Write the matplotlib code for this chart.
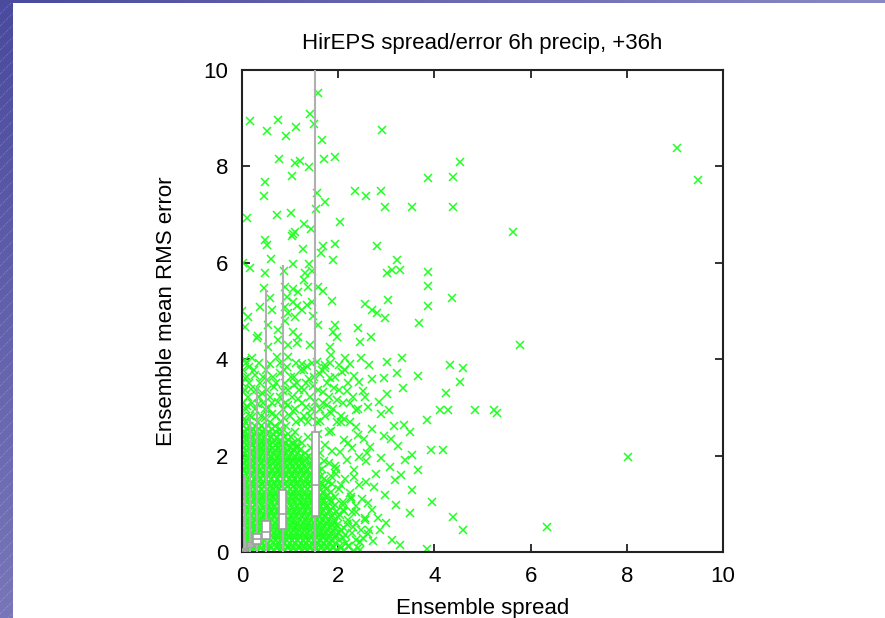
import numpy as np
import matplotlib
matplotlib.use("Agg")
import matplotlib.pyplot as plt

plt.rcParams['font.family'] = ['Liberation Sans', 'DejaVu Sans']

title = 'HirEPS spread/error 6h precip, +36h'
xlabel = 'Ensemble spread'
ylabel = 'Ensemble mean RMS error'

# dense core of the cloud, read row by row (error level, spreads)
core_rows = [
    (0.03, [0.02, 0.09, 0.21, 0.30, 0.44, 0.55, 0.66, 0.79, 0.88, 1.01, 1.12, 1.24, 1.35, 1.47, 1.58, 1.71, 1.83, 1.97, 2.12, 2.31]),
    (0.08, [0.08, 0.16, 0.27, 0.39, 0.50, 0.61, 0.73, 0.84, 0.95, 1.07, 1.18, 1.30, 1.41, 1.53, 1.64, 1.77, 1.90, 2.05, 2.42]),
    (0.13, [0.05, 0.14, 0.26, 0.37, 0.49, 0.58, 0.72, 0.83, 0.95, 1.06, 1.18, 1.29, 1.41, 1.52, 1.66, 1.77, 1.90, 2.04, 2.22]),
    (0.19, [0.01, 0.07, 0.18, 0.30, 0.41, 0.53, 0.65, 0.76, 0.87, 0.99, 1.11, 1.22, 1.33, 1.45, 1.57, 1.70, 1.82, 1.95, 2.16]),
    (0.24, [0.03, 0.11, 0.22, 0.33, 0.45, 0.61, 0.68, 0.80, 0.91, 1.03, 1.15, 1.26, 1.38, 1.49, 1.61, 1.74, 1.86, 2.01, 2.38]),
    (0.29, [0.05, 0.16, 0.28, 0.39, 0.51, 0.56, 0.74, 0.86, 0.97, 1.09, 1.20, 1.32, 1.43, 1.55, 1.68, 1.80, 1.93, 2.10]),
    (0.35, [0.07, 0.17, 0.28, 0.40, 0.52, 0.63, 0.75, 0.86, 0.98, 1.09, 1.21, 1.32, 1.44, 1.57, 1.68, 1.81, 1.95, 2.15]),
    (0.40, [0.01, 0.11, 0.22, 0.34, 0.46, 0.57, 0.69, 0.81, 0.92, 1.03, 1.15, 1.27, 1.38, 1.50, 1.62, 1.74, 1.87, 2.01, 2.29]),
    (0.45, [0.02, 0.12, 0.24, 0.36, 0.47, 0.59, 0.70, 0.82, 0.93, 1.05, 1.16, 1.28, 1.40, 1.51, 1.63, 1.76, 1.89, 2.06, 2.48]),
    (0.50, [0.08, 0.18, 0.30, 0.41, 0.53, 0.65, 0.76, 0.88, 0.99, 1.11, 1.22, 1.34, 1.46, 1.57, 1.69, 1.82, 1.95, 2.12]),
    (0.56, [0.06, 0.18, 0.29, 0.41, 0.53, 0.65, 0.77, 0.88, 1.00, 1.12, 1.23, 1.35, 1.46, 1.59, 1.71, 1.84, 1.98]),
    (0.61, [0.01, 0.12, 0.23, 0.35, 0.47, 0.59, 0.71, 0.82, 0.94, 1.06, 1.17, 1.29, 1.40, 1.52, 1.65, 1.77, 1.91, 2.36]),
    (0.67, [0.03, 0.13, 0.25, 0.37, 0.48, 0.60, 0.72, 0.84, 0.95, 1.07, 1.19, 1.30, 1.42, 1.54, 1.66, 1.79, 1.92, 2.20]),
    (0.72, [0.05, 0.19, 0.31, 0.42, 0.54, 0.66, 0.78, 0.90, 1.01, 1.13, 1.24, 1.36, 1.48, 1.60, 1.72, 1.85, 1.99]),
    (0.77, [0.08, 0.19, 0.31, 0.43, 0.55, 0.66, 0.78, 0.90, 1.02, 1.13, 1.25, 1.37, 1.49, 1.61, 1.73, 1.87, 2.03]),
    (0.82, [0.01, 0.13, 0.25, 0.37, 0.49, 0.60, 0.72, 0.84, 0.96, 1.08, 1.19, 1.31, 1.43, 1.55, 1.67, 1.80, 1.95, 2.29]),
    (0.88, [0.02, 0.14, 0.26, 0.38, 0.50, 0.61, 0.73, 0.85, 0.97, 1.08, 1.20, 1.32, 1.44, 1.56, 1.69, 1.82, 2.11]),
    (0.93, [0.08, 0.20, 0.32, 0.44, 0.56, 0.67, 0.79, 0.91, 1.03, 1.14, 1.26, 1.38, 1.50, 1.62, 1.75, 1.89]),
    (0.98, [0.06, 0.17, 0.29, 0.42, 0.54, 0.66, 0.78, 0.89, 1.01, 1.14, 1.26, 1.38, 1.50, 1.63, 1.76, 1.94]),
    (1.04, [0.01, 0.11, 0.23, 0.35, 0.48, 0.60, 0.72, 0.84, 0.95, 1.08, 1.20, 1.32, 1.44, 1.56, 1.69, 1.85, 2.09]),
    (1.09, [0.03, 0.12, 0.24, 0.36, 0.47, 0.59, 0.71, 0.83, 0.95, 1.07, 1.19, 1.31, 1.43, 1.55, 1.68, 1.83, 2.27]),
    (1.14, [0.06, 0.18, 0.30, 0.42, 0.53, 0.65, 0.77, 0.89, 1.01, 1.13, 1.25, 1.37, 1.49, 1.61, 1.74, 1.93]),
    (1.19, [0.08, 0.20, 0.32, 0.44, 0.56, 0.68, 0.80, 0.92, 1.04, 1.16, 1.28, 1.40, 1.52, 1.65, 1.79]),
    (1.25, [0.02, 0.09, 0.21, 0.33, 0.45, 0.57, 0.69, 0.81, 0.93, 1.05, 1.17, 1.29, 1.41, 1.54, 1.68, 1.84]),
    (1.30, [0.02, 0.15, 0.27, 0.39, 0.51, 0.63, 0.75, 0.87, 0.99, 1.11, 1.23, 1.35, 1.47, 1.60, 1.74, 2.02]),
    (1.36, [0.04, 0.12, 0.24, 0.36, 0.48, 0.60, 0.72, 0.84, 0.96, 1.08, 1.20, 1.32, 1.44, 1.57, 1.72]),
    (1.41, [0.06, 0.18, 0.30, 0.42, 0.54, 0.66, 0.78, 0.90, 1.02, 1.14, 1.26, 1.38, 1.51, 1.66, 1.88]),
    (1.46, [0.01, 0.09, 0.21, 0.33, 0.45, 0.57, 0.69, 0.81, 0.93, 1.05, 1.17, 1.30, 1.42, 1.56, 1.78]),
    (1.52, [0.03, 0.13, 0.25, 0.37, 0.49, 0.61, 0.73, 0.85, 0.97, 1.09, 1.21, 1.33, 1.45, 1.58, 1.71]),
    (1.57, [0.06, 0.19, 0.31, 0.43, 0.55, 0.67, 0.79, 0.91, 1.03, 1.15, 1.27, 1.39, 1.51, 1.64, 1.85]),
    (1.62, [0.08, 0.20, 0.32, 0.44, 0.56, 0.68, 0.80, 0.92, 1.04, 1.16, 1.28, 1.41, 1.55, 1.96]),
    (1.68, [0.04, 0.14, 0.26, 0.38, 0.50, 0.62, 0.74, 0.86, 0.98, 1.10, 1.22, 1.34, 1.47, 1.61]),
    (1.73, [0.02, 0.14, 0.26, 0.38, 0.50, 0.62, 0.74, 0.86, 0.98, 1.10, 1.22, 1.35, 1.49, 1.67]),
    (1.79, [0.01, 0.09, 0.20, 0.32, 0.44, 0.56, 0.68, 0.80, 0.92, 1.04, 1.16, 1.29, 1.43, 1.58]),
    (1.84, [0.06, 0.18, 0.30, 0.42, 0.54, 0.66, 0.78, 0.90, 1.02, 1.14, 1.27, 1.41, 1.80]),
    (1.89, [0.09, 0.21, 0.33, 0.45, 0.57, 0.69, 0.81, 0.93, 1.05, 1.18, 1.31, 1.46, 1.70]),
    (1.94, [0.03, 0.12, 0.24, 0.36, 0.48, 0.60, 0.72, 0.84, 0.96, 1.08, 1.21, 1.34, 1.52]),
    (2.00, [0.01, 0.13, 0.25, 0.37, 0.49, 0.61, 0.73, 0.85, 0.97, 1.10, 1.23, 1.39]),
    (2.05, [0.07, 0.19, 0.31, 0.43, 0.55, 0.67, 0.79, 0.91, 1.03, 1.16, 1.30, 1.62]),
    (2.11, [0.08, 0.20, 0.32, 0.44, 0.56, 0.68, 0.80, 0.93, 1.06, 1.20, 1.52]),
    (2.16, [0.02, 0.14, 0.26, 0.38, 0.50, 0.62, 0.74, 0.86, 0.99, 1.12, 1.44]),
    (2.22, [0.01, 0.11, 0.23, 0.35, 0.47, 0.59, 0.71, 0.84, 0.98, 1.14]),
    (2.27, [0.05, 0.17, 0.29, 0.41, 0.53, 0.65, 0.78, 0.91, 1.05, 1.25]),
    (2.33, [0.08, 0.17, 0.29, 0.41, 0.54, 0.67, 0.80, 0.95, 1.17]),
    (2.38, [0.02, 0.11, 0.23, 0.35, 0.47, 0.60, 0.73, 0.87, 1.02, 1.37]),
    (2.44, [0.01, 0.13, 0.24, 0.37, 0.50, 0.64, 0.78, 0.96]),
    (2.50, [0.06, 0.18, 0.30, 0.43, 0.56, 0.70, 0.84, 1.10]),
    (2.56, [0.10, 0.22, 0.35, 0.48, 0.62, 0.80]),
    (2.62, [0.03, 0.14, 0.27, 0.40, 0.54, 0.69, 0.92]),
    (2.70, [0.07, 0.33, 0.58, 0.81, 1.12, 1.37, 1.55, 1.97, 2.24]),
    (2.83, [0.01, 0.16, 0.40, 0.71, 0.99, 1.29, 1.72, 2.05]),
    (2.96, [0.09, 0.27, 0.48, 0.86, 1.11, 1.45, 1.63, 1.89, 2.41]),
    (3.10, [0.03, 0.21, 0.44, 0.63, 0.89, 1.25, 1.68, 2.11]),
    (3.22, [0.12, 0.36, 0.58, 0.79, 1.03, 1.42, 1.81, 2.30]),
    (3.37, [0.06, 0.29, 0.51, 0.96, 1.19, 1.58, 2.02]),
    (3.50, [0.01, 0.14, 0.38, 0.71, 0.90, 1.14, 1.33, 1.76, 2.21]),
    (3.64, [0.11, 0.43, 0.64, 1.08, 1.50, 1.93]),
    (3.78, [0.03, 0.24, 0.50, 0.87, 1.28, 1.67, 2.14]),
    (3.93, [0.09, 0.35, 0.78, 1.12, 1.45, 1.82]),
]

# looser points around the core
mid_x = [0.04, 0.21, 0.47, 0.63, 0.88, 1.05, 1.22, 1.41, 1.63, 1.85, 2.12, 2.36,
         0.10, 0.33, 0.55, 0.74, 0.96, 1.17, 1.34, 1.52, 1.76, 1.98, 2.25, 2.55,
         0.02, 0.19, 0.42, 0.66, 0.85, 1.08, 1.29, 1.47, 1.69, 1.91, 2.18, 2.44,
         0.07, 0.28, 0.53, 0.79, 1.01, 1.23, 1.40, 1.62, 1.83, 2.07, 2.33, 2.71,
         0.15, 0.59, 0.94, 1.36, 1.72, 2.01,
         2.18, 2.36, 2.51, 2.09, 2.27, 2.44, 2.61, 2.14, 2.32, 2.57, 1.93, 2.03,
         2.21, 1.72, 1.58, 1.86, 2.41, 2.66, 2.78, 2.83, 2.72, 2.95, 3.08, 2.88,
         3.02, 3.15, 2.62, 2.70, 2.52, 2.85, 3.05, 3.35, 2.95, 3.10, 2.60, 2.90,
         3.25, 2.75, 3.00, 3.30, 2.45, 2.65, 3.12,
         2.20, 2.45, 2.62, 2.30, 2.55, 2.12, 2.38, 2.70, 2.25, 2.50, 2.05, 2.33,
         2.58, 1.95, 2.18, 2.44, 1.88, 2.12, 2.36, 1.80, 2.05, 2.28, 2.53]
mid_y = [2.75, 2.81, 2.77, 2.86, 2.79, 2.92, 2.74, 2.83, 2.71, 2.88, 2.76, 2.95,
         3.02, 3.08, 2.98, 3.12, 3.05, 3.18, 3.01, 3.11, 3.04, 3.16, 3.09, 3.22,
         3.31, 3.38, 3.29, 3.42, 3.34, 3.47, 3.36, 3.44, 3.31, 3.41, 3.35, 3.52,
         3.61, 3.68, 3.57, 3.72, 3.63, 3.77, 3.58, 3.69, 3.61, 3.74, 3.66, 3.59,
         3.84, 3.90, 3.83, 3.86, 3.81, 3.88,
         0.58, 0.82, 0.29, 0.97, 1.15, 1.38, 1.02, 1.52, 1.71, 1.88, 1.78, 2.08,
         2.27, 2.21, 2.44, 2.52, 2.43, 2.18, 1.62, 0.71, 0.22, 2.41, 1.76, 2.86,
         3.27, 2.62, 3.01, 2.56, 3.35, 3.12, 2.95, 3.40, 3.62, 2.35, 2.05, 1.95,
         2.20, 1.35, 0.60, 1.60, 0.05, 0.45, 0.25,
         0.12, 0.20, 0.38, 0.52, 0.70, 0.85, 0.95, 0.88, 1.22, 1.10, 1.40, 1.55,
         1.45, 1.72, 1.90, 1.98, 2.10, 2.32, 2.60, 2.48, 2.70, 2.15, 2.35]

# individually readable points
sparse_x = [1.57, 0.17, 0.74, 0.51, 1.12, 0.91, 1.42, 1.50, 2.92, 1.66, 0.76, 1.10,
            1.21, 1.40, 1.70, 1.93, 1.03, 0.48, 0.45, 1.55, 1.73, 1.54, 2.35, 2.57,
            2.88, 2.97, 0.11, 0.73, 1.01, 1.29, 1.44, 2.03, 1.10, 1.03, 0.48,
            1.07, 0.51, 1.69, 1.93, 1.26, 1.64, 2.80, 1.89, 0.60, 3.23, 0.02, 0.17,
            0.48, 1.05, 1.39, 0.87, 1.46, 3.01, 3.11, 1.29, 1.32, 0.46, 0.89, 1.07,
            1.17, 1.38, 1.57, 1.69, 0.93, 0.58, 1.88, 3.04, 1.05, 1.46, 2.56, 0.37,
            0.89, 1.14, 1.35, 0.62, 2.70, 0.01, 0.13, 0.96, 1.24, 1.48, 2.80, 2.97,
            0.06, 0.34, 0.55, 0.89, 1.10, 0.75, 1.07, 1.17, 1.59, 1.93, 1.90, 1.97,
            2.41, 2.68, 2.45, 0.31, 0.55, 0.75, 0.96, 1.14, 1.41, 1.83, 0.06, 0.20,
            0.72, 0.96, 1.24, 1.55, 1.73, 1.86, 2.14, 2.25, 2.47, 2.63, 3.01, 3.32,
            9.04, 9.48, 4.53, 4.39, 3.87, 4.39, 3.53, 5.63, 3.28, 3.87, 3.87, 3.87,
            4.37, 3.68, 5.78, 3.22, 3.66, 4.32, 4.59, 4.53, 4.24, 4.12, 4.28, 4.84,
            5.24, 5.30, 3.85, 3.37, 3.49, 3.93, 4.18, 3.53, 3.39, 3.66, 3.53, 3.18,
            3.20, 3.49, 3.95, 2.97, 4.39, 4.59, 6.34, 8.02, 3.85, 3.28, 2.87, 2.56]
sparse_y = [9.53, 8.94, 8.96, 8.74, 8.82, 8.64, 9.08, 8.89, 8.75, 8.54, 8.15, 8.07,
            8.12, 7.99, 8.16, 8.19, 7.80, 7.67, 7.39, 7.45, 7.26, 7.12, 7.50, 7.39,
            7.50, 7.15, 6.92, 6.99, 7.03, 6.81, 6.70, 6.84, 6.64, 6.56, 6.47,
            6.60, 6.37, 6.35, 6.40, 6.28, 6.21, 6.35, 6.06, 6.07, 6.06, 6.00, 5.90,
            5.78, 5.97, 5.98, 5.82, 5.84, 5.79, 5.85, 5.64, 5.78, 5.48, 5.49, 5.45,
            5.40, 5.50, 5.49, 5.42, 5.30, 5.26, 5.21, 5.23, 5.19, 5.19, 5.15, 5.09,
            5.09, 5.10, 5.12, 5.02, 5.02, 4.99, 4.87, 4.95, 5.02, 4.90, 4.96, 4.85,
            4.67, 4.48, 4.71, 4.80, 4.88, 4.61, 4.57, 4.47, 4.71, 4.71, 4.57, 4.47,
            4.64, 4.47, 4.36, 4.43, 4.26, 4.40, 4.29, 4.33, 4.29, 4.26, 3.98, 4.02,
            4.05, 4.05, 3.91, 3.95, 3.88, 4.09, 4.02, 3.91, 4.02, 3.88, 3.95, 4.02,
            8.38, 7.72, 8.09, 7.78, 7.76, 7.16, 7.16, 6.64, 5.85, 5.81, 5.52, 5.10,
            5.27, 4.75, 4.29, 3.71, 3.65, 3.88, 3.82, 3.53, 3.30, 2.95, 2.95, 2.95,
            2.95, 2.88, 2.74, 2.63, 2.49, 2.12, 2.12, 2.01, 1.91, 1.70, 1.29, 1.49,
            0.98, 0.81, 1.04, 1.18, 0.73, 0.46, 0.52, 1.97, 0.06, 0.15, 0.46, 0.66]

# box plots binned by spread
box_pos = [0.06, 0.17, 0.31, 0.50, 0.85, 1.52]
box_q1 = [0.02, 0.10, 0.17, 0.26, 0.47, 0.75]
box_med = [0.04, 0.14, 0.26, 0.41, 0.79, 1.40]
box_q3 = [0.07, 0.19, 0.37, 0.65, 1.29, 2.50]
box_lo = [0.0, 0.0, 0.0, 0.0, 0.0, 0.0]
box_hi = [1.6, 2.78, 3.43, 5.44, 5.95, 11.0]

core_x = [x for y, xs in core_rows for x in xs]
core_y = [y for y, xs in core_rows for x in xs]
all_x = core_x + mid_x + sparse_x
all_y = core_y + mid_y + sparse_y

fig = plt.figure(figsize=(8.85, 6.18), dpi=100)

# slide background: gradient strips with faint diagonal hatching
bg_l = fig.add_axes([0, 0, 13 / 885, 1])
grad = np.linspace(0, 1, 256).reshape(-1, 1)
bg_l.imshow(grad, aspect='auto', extent=[0, 13, 0, 618], origin='upper',
            cmap=matplotlib.colors.LinearSegmentedColormap.from_list(
                'bgl', ['#4a4a9e', '#7876b8']))
for c in range(-20, 640, 12):
    bg_l.plot([0, 13], [c, c + 13], color='white', alpha=0.35, lw=0.6, ls=(0, (1, 1.5)))
bg_l.set_xlim(0, 13)
bg_l.set_ylim(0, 618)
bg_l.axis('off')

bg_t = fig.add_axes([0, 615 / 618, 1, 3 / 618])
grad_t = np.linspace(0, 1, 256).reshape(1, -1)
bg_t.imshow(grad_t, aspect='auto', extent=[0, 885, 0, 3],
            cmap=matplotlib.colors.LinearSegmentedColormap.from_list(
                'bgt', ['#4a4a9e', '#8a88c4']))
bg_t.axis('off')

ax = fig.add_axes([242 / 885, 66 / 618, 481 / 885, 482 / 618])
ax.plot(all_x, all_y, linestyle='none', marker='x', color='#22ff22',
        markersize=6, markeredgewidth=1.1, zorder=2)

ax.vlines(box_pos, box_lo, box_hi, color='#b0b0b0', lw=1.5, zorder=3)
heights = [q3 - q1 for q1, q3 in zip(box_q1, box_q3)]
ax.bar(box_pos, heights, bottom=box_q1, width=0.15, color='white',
       edgecolor='#a0a0a0', linewidth=1.2, zorder=4)
ax.hlines(box_med, [p - 0.075 for p in box_pos], [p + 0.075 for p in box_pos],
          color='#a0a0a0', lw=1.2, zorder=5)

ax.set_xlim(0, 10)
ax.set_ylim(0, 10)
ax.set_xticks([0, 2, 4, 6, 8, 10])
ax.set_yticks([0, 2, 4, 6, 8, 10])
ax.tick_params(direction='in', top=True, right=True, length=6, width=1.3,
               labelsize=16, color='#222222')
ax.tick_params(axis='y', pad=10)
ax.tick_params(axis='x', pad=10)
for s in ax.spines.values():
    s.set_linewidth(1.5)
    s.set_color('#222222')

ax.set_title(title, fontsize=16, pad=15)
ax.set_xlabel(xlabel, fontsize=16, labelpad=8)
ax.set_ylabel(ylabel, fontsize=16, labelpad=19)

fig.savefig('out.png', dpi=100)
